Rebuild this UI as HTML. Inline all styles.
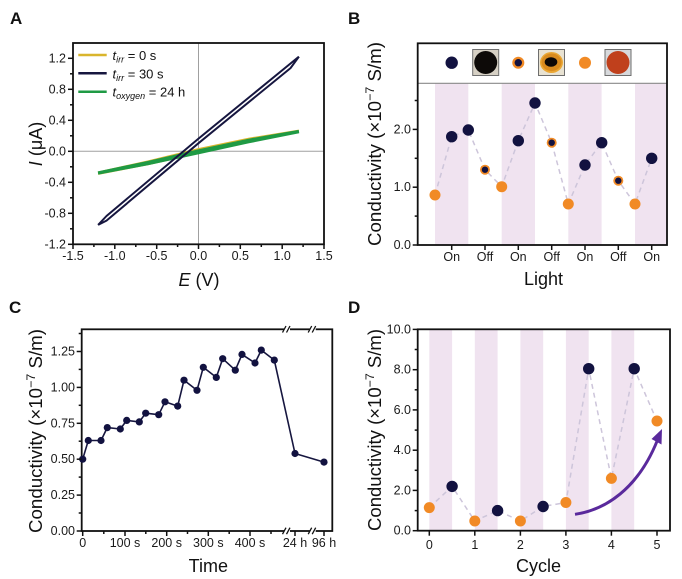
<!DOCTYPE html>
<html><head><meta charset="utf-8"><style>
html,body{margin:0;padding:0;background:#fff;}
svg{display:block;font-family:"Liberation Sans","DejaVu Sans",sans-serif;}
.tl{font-size:12.5px;fill:#1a1a1a;}
.ax{font-size:18px;fill:#111;}
.pl{font-size:17px;font-weight:bold;fill:#111;}
</style></head><body>
<svg width="682" height="579" viewBox="0 0 682 579" xmlns="http://www.w3.org/2000/svg">
<rect width="682" height="579" fill="#fff"/>

<!-- ============ PANEL A ============ -->
<text class="pl" x="10" y="24">A</text>
<line x1="198.5" y1="43" x2="198.5" y2="244.3" stroke="#a0a0a0" stroke-width="1"/>
<line x1="73" y1="151.3" x2="324" y2="151.3" stroke="#a0a0a0" stroke-width="1"/>
<!-- yellow & green -->
<polyline fill="none" stroke="#d9b52c" stroke-width="2.6" stroke-linejoin="round"
 points="98.1,172.8 148.3,161.6 198.5,149.4 248.7,139.0 298.9,130.9"/>
<polyline fill="none" stroke="#d9b52c" stroke-width="2.6" stroke-linejoin="round"
 points="98.1,173.6 148.3,163.8 198.5,152.6 248.7,141.4 298.9,131.6"/>
<polyline fill="none" stroke="#1f9a44" stroke-width="3" stroke-linejoin="round"
 points="98.1,172.8 148.3,162.3 198.5,150.8 248.7,140.2 298.9,131.3"/>
<polyline fill="none" stroke="#1f9a44" stroke-width="3" stroke-linejoin="round"
 points="98.1,173.2 148.3,163.6 198.5,152.8 248.7,141.8 298.9,131.8"/>
<!-- navy loop -->
<polyline fill="none" stroke="#16163f" stroke-width="2" stroke-linejoin="round"
 points="98.1,224.9 106.5,216.0 198.5,138.6 290.5,63.5 298.9,56.7"/>
<polyline fill="none" stroke="#16163f" stroke-width="2" stroke-linejoin="round"
 points="98.1,224.9 106.5,220.6 198.5,143.2 290.5,68.1 298.9,56.7"/>
<!-- frame -->
<rect x="73" y="43" width="251" height="201.3" fill="none" stroke="#111" stroke-width="1.8"/>
<!-- x ticks -->
<g stroke="#111" stroke-width="1.5">
<line x1="73" y1="244.3" x2="73" y2="249"/><line x1="114.8" y1="244.3" x2="114.8" y2="249"/>
<line x1="156.7" y1="244.3" x2="156.7" y2="249"/><line x1="198.5" y1="244.3" x2="198.5" y2="249"/>
<line x1="240.3" y1="244.3" x2="240.3" y2="249"/><line x1="282.2" y1="244.3" x2="282.2" y2="249"/>
<line x1="324" y1="244.3" x2="324" y2="249"/>
<line x1="93.9" y1="244.3" x2="93.9" y2="247"/><line x1="135.8" y1="244.3" x2="135.8" y2="247"/>
<line x1="177.6" y1="244.3" x2="177.6" y2="247"/><line x1="219.4" y1="244.3" x2="219.4" y2="247"/>
<line x1="261.3" y1="244.3" x2="261.3" y2="247"/><line x1="303.1" y1="244.3" x2="303.1" y2="247"/>
<!-- y ticks -->
<line x1="68" y1="244.3" x2="73" y2="244.3"/><line x1="68" y1="213.3" x2="73" y2="213.3"/>
<line x1="68" y1="182.3" x2="73" y2="182.3"/><line x1="68" y1="151.3" x2="73" y2="151.3"/>
<line x1="68" y1="120.3" x2="73" y2="120.3"/><line x1="68" y1="89.3" x2="73" y2="89.3"/>
<line x1="68" y1="58.3" x2="73" y2="58.3"/>
<line x1="70" y1="228.8" x2="73" y2="228.8"/><line x1="70" y1="197.8" x2="73" y2="197.8"/>
<line x1="70" y1="166.8" x2="73" y2="166.8"/><line x1="70" y1="135.8" x2="73" y2="135.8"/>
<line x1="70" y1="104.8" x2="73" y2="104.8"/><line x1="70" y1="73.8" x2="73" y2="73.8"/>
</g>
<g class="tl" text-anchor="end">
<text x="66" y="248.5">-1.2</text><text x="66" y="217.5">-0.8</text><text x="66" y="186.5">-0.4</text>
<text x="66" y="155.5">0.0</text><text x="66" y="124.5">0.4</text><text x="66" y="93.5">0.8</text>
<text x="66" y="62.5">1.2</text>
</g>
<g class="tl" text-anchor="middle">
<text x="73" y="260">-1.5</text><text x="114.8" y="260">-1.0</text><text x="156.7" y="260">-0.5</text>
<text x="198.5" y="260">0.0</text><text x="240.3" y="260">0.5</text><text x="282.2" y="260">1.0</text>
<text x="324" y="260">1.5</text>
</g>
<text class="ax" x="199" y="286" text-anchor="middle"><tspan font-style="italic">E</tspan> (V)</text>
<text class="ax" transform="translate(42,144) rotate(-90)" text-anchor="middle"><tspan font-style="italic">I</tspan> (μA)</text>
<!-- legend -->
<line x1="78.3" y1="55" x2="106.7" y2="55" stroke="#d9b52c" stroke-width="2.5"/>
<line x1="78.3" y1="73.3" x2="106.7" y2="73.3" stroke="#16163f" stroke-width="2.5"/>
<line x1="78.3" y1="91.7" x2="106.7" y2="91.7" stroke="#1f9a44" stroke-width="2.5"/>
<g font-size="13" fill="#111">
<text x="112.5" y="60"><tspan font-style="italic">t</tspan><tspan font-style="italic" font-size="9" dy="2.5">irr</tspan><tspan dy="-2.5"> = 0 s</tspan></text>
<text x="112.5" y="78.3"><tspan font-style="italic">t</tspan><tspan font-style="italic" font-size="9" dy="2.5">irr</tspan><tspan dy="-2.5"> = 30 s</tspan></text>
<text x="112.5" y="96.7"><tspan font-style="italic">t</tspan><tspan font-style="italic" font-size="9" dy="2.5">oxygen</tspan><tspan dy="-2.5"> = 24 h</tspan></text>
</g>

<!-- ============ PANEL B ============ -->
<text class="pl" x="348" y="24">B</text>
<g fill="#f0e3f0">
<rect x="435" y="83.3" width="33.3" height="161.7"/>
<rect x="501.7" y="83.3" width="33.3" height="161.7"/>
<rect x="568.3" y="83.3" width="33.3" height="161.7"/>
<rect x="635" y="83.3" width="32" height="161.7"/>
</g>
<line x1="417.7" y1="83.3" x2="667" y2="83.3" stroke="#8a8a8a" stroke-width="1.2"/>
<polyline fill="none" stroke="#cdc5da" stroke-width="1.5" stroke-dasharray="5 4"
 points="435,195 451.7,136.7 468.3,130 485,169.7 501.7,186.7 518.3,140.7 535,103 551.7,142.7 568.3,204 585,165 601.7,142.7 618.3,180.7 635,204 651.7,158.3"/>
<g fill="#f18a25">
<circle cx="435" cy="195" r="5.5"/><circle cx="501.7" cy="186.7" r="5.5"/>
<circle cx="568.3" cy="204" r="5.5"/><circle cx="635" cy="204" r="5.5"/>
<circle cx="485" cy="169.7" r="5"/><circle cx="551.7" cy="142.7" r="5"/><circle cx="618.3" cy="180.7" r="5"/>
<circle cx="585" cy="62.7" r="6"/><circle cx="518.3" cy="62.7" r="6"/>
</g>
<g fill="#121240">
<circle cx="451.7" cy="136.7" r="5.7"/><circle cx="468.3" cy="130" r="5.7"/>
<circle cx="518.3" cy="140.7" r="5.7"/><circle cx="535" cy="103" r="5.7"/>
<circle cx="585" cy="165" r="5.7"/><circle cx="601.7" cy="142.7" r="5.7"/>
<circle cx="651.7" cy="158.3" r="5.7"/>
<circle cx="485" cy="169.7" r="3.2"/><circle cx="551.7" cy="142.7" r="3.2"/><circle cx="618.3" cy="180.7" r="3.2"/>
<circle cx="451.7" cy="62.7" r="6.2"/><circle cx="518.3" cy="62.7" r="3.7"/>
</g>
<!-- photos -->
<rect x="472.7" y="49.5" width="26" height="26" fill="#d6d0c4" stroke="#6e6e6e" stroke-width="1"/>
<circle cx="485.7" cy="62.5" r="11.5" fill="#0d0a08"/>
<rect x="538.5" y="49.5" width="26" height="26" fill="#e8e2d2" stroke="#6e6e6e" stroke-width="1"/>
<ellipse cx="551.5" cy="62.5" rx="11.5" ry="10.5" fill="#eaa734"/>
<ellipse cx="551.5" cy="62.3" rx="10" ry="8.8" fill="#d98b1e"/>
<ellipse cx="551" cy="62" rx="6.3" ry="4.8" fill="#0c0806"/>
<rect x="605" y="49.5" width="26" height="26" fill="#d7d9dc" stroke="#6e6e6e" stroke-width="1"/>
<circle cx="618" cy="62.5" r="11.5" fill="#c0401c"/>
<!-- frame -->
<rect x="417.7" y="43.3" width="249.3" height="201.7" fill="none" stroke="#111" stroke-width="1.8"/>
<g stroke="#111" stroke-width="1.5">
<line x1="451.7" y1="245" x2="451.7" y2="250"/><line x1="485" y1="245" x2="485" y2="250"/>
<line x1="518.3" y1="245" x2="518.3" y2="250"/><line x1="551.7" y1="245" x2="551.7" y2="250"/>
<line x1="585" y1="245" x2="585" y2="250"/><line x1="618.3" y1="245" x2="618.3" y2="250"/>
<line x1="651.7" y1="245" x2="651.7" y2="250"/>
<line x1="412.7" y1="245" x2="417.7" y2="245"/><line x1="412.7" y1="187.2" x2="417.7" y2="187.2"/>
<line x1="412.7" y1="129.4" x2="417.7" y2="129.4"/>
<line x1="414.7" y1="216.1" x2="417.7" y2="216.1"/><line x1="414.7" y1="158.3" x2="417.7" y2="158.3"/>
<line x1="414.7" y1="100.5" x2="417.7" y2="100.5"/>
</g>
<g class="tl" text-anchor="end">
<text x="411" y="249">0.0</text><text x="411" y="191.2">1.0</text><text x="411" y="133.4">2.0</text>
</g>
<g class="tl" text-anchor="middle">
<text x="451.7" y="261">On</text><text x="485" y="261">Off</text><text x="518.3" y="261">On</text>
<text x="551.7" y="261">Off</text><text x="585" y="261">On</text><text x="618.3" y="261">Off</text>
<text x="651.7" y="261">On</text>
</g>
<text class="ax" x="543.5" y="285" text-anchor="middle" font-size="19">Light</text>
<text class="ax" transform="translate(381,144) rotate(-90)" text-anchor="middle" textLength="204" lengthAdjust="spacingAndGlyphs">Conductivity (×10<tspan font-size="12" dy="-7">−7</tspan><tspan dy="7"> S/m)</tspan></text>

<!-- ============ PANEL C ============ -->
<text class="pl" x="9" y="313">C</text>
<rect x="81.7" y="329.3" width="250.6" height="201.7" fill="none" stroke="#111" stroke-width="1.8"/>
<!-- breaks -->
<g fill="#fff">
<rect x="284" y="326" width="6" height="7"/><rect x="309.7" y="326" width="6" height="7"/>
<rect x="284" y="527.5" width="6" height="7"/><rect x="309.7" y="527.5" width="6" height="7"/>
</g>
<g stroke="#111" stroke-width="1.3">
<line x1="282.5" y1="332.5" x2="286" y2="326"/><line x1="286.5" y1="332.5" x2="290" y2="326"/>
<line x1="308.2" y1="332.5" x2="311.7" y2="326"/><line x1="312.2" y1="332.5" x2="315.7" y2="326"/>
<line x1="282.5" y1="534.2" x2="286" y2="527.7"/><line x1="286.5" y1="534.2" x2="290" y2="527.7"/>
<line x1="308.2" y1="534.2" x2="311.7" y2="527.7"/><line x1="312.2" y1="534.2" x2="315.7" y2="527.7"/>
</g>
<polyline fill="none" stroke="#16163f" stroke-width="1.6" stroke-linejoin="round"
 points="82.7,459.2 88.3,440.5 101,440.5 107.3,427.6 120.3,429.0 126.7,420.4 139.3,421.9 145.7,413.2 158.7,414.7 165,401.8 177.7,406.1 184,380.2 197,390.3 203.3,367.3 216.3,377.4 222.7,358.7 235.3,370.2 242,354.4 255,363.0 261.3,350.1 274.3,360.1 295,453.5 324,462.1"/>
<g fill="#121240">
<circle cx="82.7" cy="459.2" r="3.6"/><circle cx="88.3" cy="440.5" r="3.6"/><circle cx="101" cy="440.5" r="3.6"/>
<circle cx="107.3" cy="427.6" r="3.6"/><circle cx="120.3" cy="429.0" r="3.6"/><circle cx="126.7" cy="420.4" r="3.6"/>
<circle cx="139.3" cy="421.9" r="3.6"/><circle cx="145.7" cy="413.2" r="3.6"/><circle cx="158.7" cy="414.7" r="3.6"/>
<circle cx="165" cy="401.8" r="3.6"/><circle cx="177.7" cy="406.1" r="3.6"/><circle cx="184" cy="380.2" r="3.6"/>
<circle cx="197" cy="390.3" r="3.6"/><circle cx="203.3" cy="367.3" r="3.6"/><circle cx="216.3" cy="377.4" r="3.6"/>
<circle cx="222.7" cy="358.7" r="3.6"/><circle cx="235.3" cy="370.2" r="3.6"/><circle cx="242" cy="354.4" r="3.6"/>
<circle cx="255" cy="363.0" r="3.6"/><circle cx="261.3" cy="350.1" r="3.6"/><circle cx="274.3" cy="360.1" r="3.6"/>
<circle cx="295" cy="453.5" r="3.6"/><circle cx="324" cy="462.1" r="3.6"/>
</g>
<g stroke="#111" stroke-width="1.5">
<line x1="76.7" y1="531" x2="81.7" y2="531"/><line x1="76.7" y1="495.1" x2="81.7" y2="495.1"/>
<line x1="76.7" y1="459.2" x2="81.7" y2="459.2"/><line x1="76.7" y1="423.3" x2="81.7" y2="423.3"/>
<line x1="76.7" y1="387.4" x2="81.7" y2="387.4"/><line x1="76.7" y1="351.5" x2="81.7" y2="351.5"/>
<line x1="78.7" y1="513" x2="81.7" y2="513"/><line x1="78.7" y1="477.1" x2="81.7" y2="477.1"/>
<line x1="78.7" y1="441.2" x2="81.7" y2="441.2"/><line x1="78.7" y1="405.3" x2="81.7" y2="405.3"/>
<line x1="78.7" y1="369.4" x2="81.7" y2="369.4"/><line x1="78.7" y1="333.5" x2="81.7" y2="333.5"/>
<line x1="82.7" y1="531" x2="82.7" y2="536"/><line x1="125" y1="531" x2="125" y2="536"/>
<line x1="166.7" y1="531" x2="166.7" y2="536"/><line x1="208.3" y1="531" x2="208.3" y2="536"/>
<line x1="250" y1="531" x2="250" y2="536"/><line x1="295" y1="531" x2="295" y2="536"/>
<line x1="324" y1="531" x2="324" y2="536"/>
<line x1="103.8" y1="531" x2="103.8" y2="534"/><line x1="145.8" y1="531" x2="145.8" y2="534"/>
<line x1="187.5" y1="531" x2="187.5" y2="534"/><line x1="229.2" y1="531" x2="229.2" y2="534"/>
<line x1="271" y1="531" x2="271" y2="534"/>
</g>
<g class="tl" text-anchor="end">
<text x="75" y="535">0.00</text><text x="75" y="499.1">0.25</text><text x="75" y="463.2">0.50</text>
<text x="75" y="427.3">0.75</text><text x="75" y="391.4">1.00</text><text x="75" y="355.5">1.25</text>
</g>
<g class="tl" text-anchor="middle">
<text x="82.7" y="547">0</text><text x="125" y="547">100 s</text><text x="166.7" y="547">200 s</text>
<text x="208.3" y="547">300 s</text><text x="250" y="547">400 s</text><text x="295" y="547">24 h</text>
<text x="324" y="547">96 h</text>
</g>
<text class="ax" x="208.3" y="572" text-anchor="middle" font-size="19">Time</text>
<text class="ax" transform="translate(42,431) rotate(-90)" text-anchor="middle" textLength="204" lengthAdjust="spacingAndGlyphs">Conductivity (×10<tspan font-size="12" dy="-7">−7</tspan><tspan dy="7"> S/m)</tspan></text>

<!-- ============ PANEL D ============ -->
<text class="pl" x="348" y="313">D</text>
<g fill="#f0e3f0">
<rect x="429.3" y="329.3" width="22.8" height="201.4"/>
<rect x="474.8" y="329.3" width="22.8" height="201.4"/>
<rect x="520.4" y="329.3" width="22.8" height="201.4"/>
<rect x="565.9" y="329.3" width="22.8" height="201.4"/>
<rect x="611.4" y="329.3" width="22.8" height="201.4"/>
</g>
<polyline fill="none" stroke="#cdc5da" stroke-width="1.5" stroke-dasharray="5 4"
 points="429.3,507.6 452.1,486.4 474.8,521.0 497.6,510.6 520.4,521.0 543.1,506.5 565.9,502.5 588.7,368.7 611.4,478.4 634.2,368.7 657,421.0"/>
<g fill="#f18a25">
<circle cx="429.3" cy="507.6" r="5.5"/><circle cx="474.8" cy="521.0" r="5.5"/>
<circle cx="520.4" cy="521.0" r="5.5"/><circle cx="565.9" cy="502.5" r="5.5"/>
<circle cx="611.4" cy="478.4" r="5.5"/><circle cx="657" cy="421.0" r="5.5"/>
</g>
<g fill="#121240">
<circle cx="452.1" cy="486.4" r="5.7"/><circle cx="497.6" cy="510.6" r="5.7"/>
<circle cx="543.1" cy="506.5" r="5.7"/><circle cx="588.7" cy="368.7" r="5.7"/>
<circle cx="634.2" cy="368.7" r="5.7"/>
</g>
<!-- arrow -->
<path d="M575,514.3 C605,510 638,489 657.5,440" fill="none" stroke="#5a2a9c" stroke-width="3"/>
<polygon points="662,429 661.5,444.5 651.5,439" fill="#5a2a9c"/>
<rect x="417.7" y="329.3" width="252.3" height="201.4" fill="none" stroke="#111" stroke-width="1.8"/>
<g stroke="#111" stroke-width="1.5">
<line x1="412.7" y1="530.7" x2="417.7" y2="530.7"/><line x1="412.7" y1="490.4" x2="417.7" y2="490.4"/>
<line x1="412.7" y1="450.2" x2="417.7" y2="450.2"/><line x1="412.7" y1="409.9" x2="417.7" y2="409.9"/>
<line x1="412.7" y1="369.7" x2="417.7" y2="369.7"/><line x1="412.7" y1="329.4" x2="417.7" y2="329.4"/>
<line x1="414.7" y1="510.6" x2="417.7" y2="510.6"/><line x1="414.7" y1="470.3" x2="417.7" y2="470.3"/>
<line x1="414.7" y1="430.1" x2="417.7" y2="430.1"/><line x1="414.7" y1="389.8" x2="417.7" y2="389.8"/>
<line x1="414.7" y1="349.5" x2="417.7" y2="349.5"/>
<line x1="429.3" y1="530.7" x2="429.3" y2="535.7"/><line x1="474.8" y1="530.7" x2="474.8" y2="535.7"/>
<line x1="520.4" y1="530.7" x2="520.4" y2="535.7"/><line x1="565.9" y1="530.7" x2="565.9" y2="535.7"/>
<line x1="611.4" y1="530.7" x2="611.4" y2="535.7"/><line x1="657" y1="530.7" x2="657" y2="535.7"/>
</g>
<g class="tl" text-anchor="end">
<text x="411" y="534.7">0.0</text><text x="411" y="494.4">2.0</text><text x="411" y="454.2">4.0</text>
<text x="411" y="413.9">6.0</text><text x="411" y="373.7">8.0</text><text x="411" y="333.4">10.0</text>
</g>
<g class="tl" text-anchor="middle">
<text x="429.3" y="549">0</text><text x="474.8" y="549">1</text><text x="520.4" y="549">2</text>
<text x="565.9" y="549">3</text><text x="611.4" y="549">4</text><text x="657" y="549">5</text>
</g>
<text class="ax" x="538.5" y="572" text-anchor="middle" font-size="19">Cycle</text>
<text class="ax" transform="translate(381,430) rotate(-90)" text-anchor="middle" textLength="202" lengthAdjust="spacingAndGlyphs">Conductivity (×10<tspan font-size="12" dy="-7">−7</tspan><tspan dy="7"> S/m)</tspan></text>
</svg>
</body></html>
